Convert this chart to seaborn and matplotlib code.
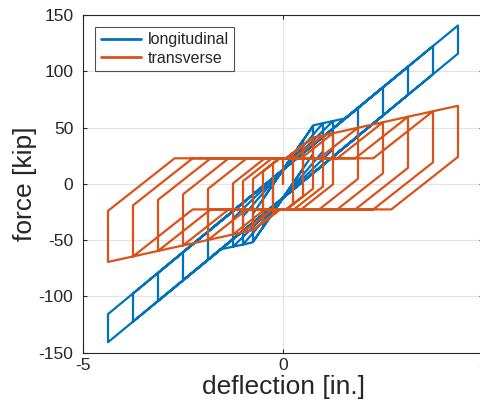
import numpy as np
import pandas as pd
import matplotlib
matplotlib.use("Agg")
import matplotlib.pyplot as plt
import seaborn as sns

# ---- data (vertices of the hysteresis traces) ----
long_defl = [0, 0, 0.25, 0.25, -0.25, -0.25, 0.5, 0.5, -0.5, -0.5, 0.75, 0.75, -0.75, -0.75,
             0.76, 1.0, 1.0, 0, -0.76, -1.0, -1.0, 0, 1.0, 1.25, 1.25, 0, -1.0, -1.25, -1.25,
             0, 1.25, 1.56, 1.875, 1.875, 0, -1.25, -1.56, -1.875, -1.875,
             2.5, 2.5, -2.5, -2.5, 3.125, 3.125, -3.125, -3.125, 3.75, 3.75, -3.75, -3.75,
             4.375, 4.375, -4.375, -4.375, 0]
long_force = [0, 12.5, 25.5, 0.5, -25.5, -0.5, 38.5, 13.5, -38.5, -13.5, 51.5, 26.5, -51.5, -26.5,
              52.0, 53.9, 28.9, -12.5, -52.0, -53.9, -28.9, 12.5, 53.9, 55.8, 30.8, -12.5, -53.9, -55.8, -30.8,
              12.5, 55.8, 58.2, 67.4, 42.4, -12.5, -55.8, -58.2, -67.4, -42.4,
              85.75, 60.75, -85.75, -60.75, 104.1, 79.1, -104.1, -79.1, 122.4, 97.4, -122.4, -97.4,
              140.7, 115.7, -140.7, -115.7, 12.5]

trans_defl = [0, 0, 0.08, 0.25, 0.25, 0.08, -0.08, -0.25, -0.25, -0.08, 0.08, 0.5, 0.5, 0.08, -0.08,
              -0.5, -0.5, -0.08, 0.08, 0.731, 0.75, 0.75, 0.094, -0.08, -0.731, -0.75, -0.75, -0.094,
              0.094, 0.75, 1.0, 1.0, 0.274, -0.094, -0.75, -1.0, -1.0, -0.274, 0.274, 1.0, 1.25, 1.25,
              0.454, -0.274, -1.0, -1.25, -1.25, -0.454, 0.454, 1.25, 1.875, 1.875, 0.905, -0.454,
              -1.25, -1.875, -1.875, -0.905, 0.905, 1.875, 2.5, 2.5, 1.356, -0.905, -1.875, -2.5, -2.5,
              -1.356, 1.356, 2.5, 3.125, 3.125, 1.807, -1.356, -2.5, -3.125, -3.125, -1.807, 1.807,
              3.125, 3.75, 3.75, 2.258, -1.807, -3.125, -3.75, -3.75, -2.258, 2.258, 3.75, 4.375,
              4.375, 2.709, -2.258, -3.75, -4.375, -4.375, -2.709, 0]
trans_force = [0, 22.7, 22.7, 27.46, -17.94, -22.7, -22.7, -27.46, 17.94, 22.7, 22.7, 34.46, -10.94,
               -22.7, -22.7, -34.46, 10.94, 22.7, 22.7, 40.93, 41.08, -4.32, -22.7, -22.7, -40.93,
               -41.08, 4.32, 22.7, 22.7, 41.08, 43.03, -2.37, -22.7, -22.7, -41.08, -43.03, 2.37,
               22.7, 22.7, 43.03, 44.98, -0.42, -22.7, -22.7, -43.03, -44.98, 0.42, 22.7, 22.7,
               44.98, 49.86, 4.46, -22.7, -22.7, -44.98, -49.86, -4.46, 22.7, 22.7, 49.86, 54.74,
               9.34, -22.7, -22.7, -49.86, -54.74, -9.34, 22.7, 22.7, 54.74, 59.61, 14.21, -22.7,
               -22.7, -54.74, -59.61, -14.21, 22.7, 22.7, 59.61, 64.49, 19.09, -22.7, -22.7, -59.61,
               -64.49, -19.09, 22.7, 22.7, 64.49, 69.36, 23.96, -22.7, -22.7, -64.49, -69.36,
               -23.96, 22.7, 22.7]

series_names = ["longitudinal", "transverse"]
series_colors = ["#0072BD", "#D95319"]
x_ticks = [-5, 0, 5]
y_ticks = [-150, -100, -50, 0, 50, 100, 150]

df = pd.concat([
    pd.DataFrame({"deflection": long_defl, "force": long_force, "series": series_names[0]}),
    pd.DataFrame({"deflection": trans_defl, "force": trans_force, "series": series_names[1]}),
], ignore_index=True)

sns.set_style("white")
plt.rcParams["font.family"] = ["Liberation Sans", "DejaVu Sans"]

fig = plt.figure(figsize=(4.8, 4.04), dpi=100)
ax = fig.add_axes([83 / 480, 51.3 / 404, 400 / 480, 337.7 / 404])

sns.lineplot(data=df, x="deflection", y="force", hue="series",
             sort=False, estimator=None, palette=series_colors, hue_order=series_names,
             linewidth=1.6, ax=ax)

ax.set_xlim(-5, 5)
ax.set_ylim(-150, 150)
ax.set_xticks(x_ticks)
ax.set_yticks(y_ticks)
ax.set_xticklabels([str(t) for t in x_ticks])
ax.set_yticklabels([str(t) for t in y_ticks])
ax.grid(True, color="#e3e3e3", linewidth=0.8)
ax.set_axisbelow(True)
for s in ax.spines.values():
    s.set_visible(True)
    s.set_color("#262626")
    s.set_linewidth(0.8)
ax.tick_params(direction="in", length=3, width=0.8, colors="#262626", labelsize=12.5,
               top=True, right=True, bottom=True, left=True, pad=7)
ax.tick_params(axis="x", pad=4)
ax.set_xlabel("deflection [in.]", fontsize=19, color="#262626", labelpad=1)
ax.set_ylabel("force [kip]", fontsize=19, color="#262626", labelpad=1)

leg = ax.legend(loc="upper left", bbox_to_anchor=(0.03, 0.965), frameon=True, fancybox=False,
                fontsize=11.5, handlelength=2.5, handletextpad=0.45, borderpad=0.35,
                labelspacing=0.2, borderaxespad=0)
leg.get_frame().set_edgecolor("#262626")
leg.get_frame().set_linewidth(0.8)
for line in leg.get_lines():
    line.set_linewidth(2)

fig.savefig("out.png", dpi=100)
